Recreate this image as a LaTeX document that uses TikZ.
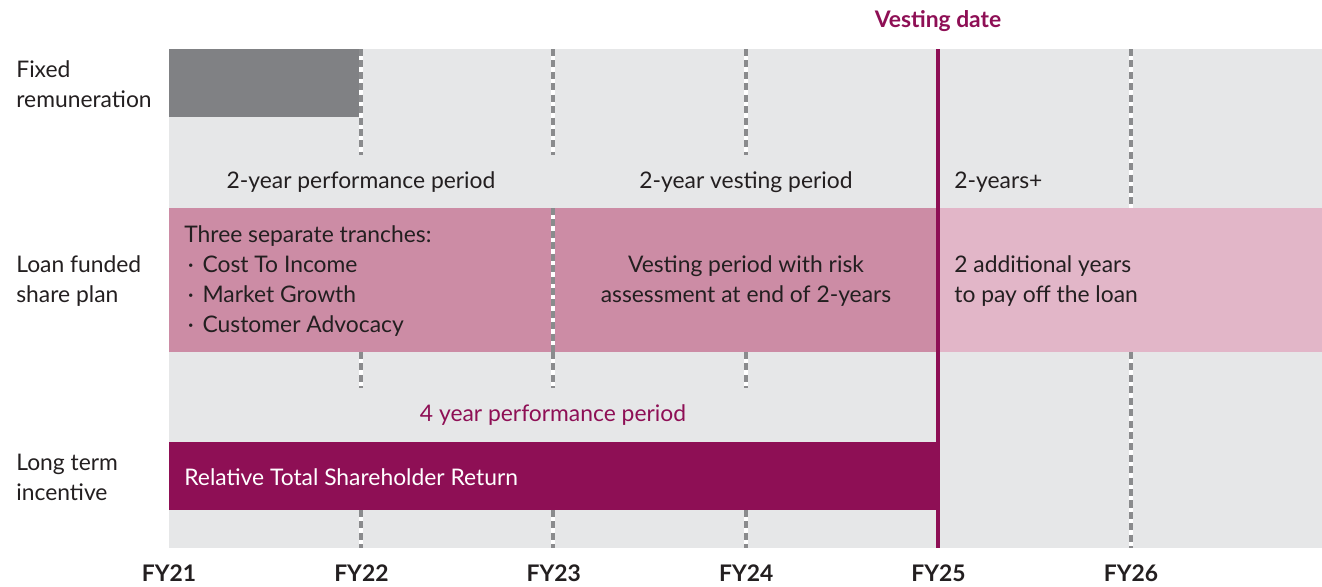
\documentclass[tikz,border=0pt]{standalone}
\usepackage{fontspec}
\setmainfont{Lato}

\definecolor{panelgrey}{HTML}{E6E7E8}
\definecolor{fixedgrey}{HTML}{808184}
\definecolor{lfspink}{HTML}{CC8CA5}
\definecolor{lfslight}{HTML}{E2B6C8}
\definecolor{plum}{HTML}{8E0F55}
\definecolor{inkdark}{HTML}{231F20}
\definecolor{dashgrey}{HTML}{8A8B8D}

\begin{document}
\begin{tikzpicture}[x=0.02cm, y=-0.02cm,
	every node/.style={font=\fontsize{13}{17}\selectfont, text=inkdark, inner sep=0pt},
	rowlabel/.style={anchor=west, align=left},
	period/.style={anchor=center},
	yearlabel/.style={anchor=center, font=\fontsize{13}{17}\selectfont\bfseries},
	gridline/.style={dashgrey, line width=2pt, dash pattern=on 4pt off 2.5pt}]
	\useasboundingbox (0,0) rectangle (1322,586);

	% panel and bands
	\fill[panelgrey] (169,49) rectangle (1322,548);
	\fill[fixedgrey] (169,49) rectangle (361,117);
	\fill[lfspink] (169,208) rectangle (938,352);
	\fill[lfslight] (938,208) rectangle (1322,352);
	\fill[plum] (169,442) rectangle (938,510);

	% year gridlines, white under grey dashes
	\foreach \x/\ya/\yb in {361/49/155, 553/49/155, 746/49/155, 1131/49/208,
		553/208/352, 361/352/388, 553/352/388, 746/352/388, 1131/352/548,
		361/510/548, 553/510/548, 746/510/548} {
		\draw[white, line width=2pt] (\x,\ya) -- (\x,\yb);
		\draw[gridline] (\x,\ya) -- (\x,\yb);
	}

	% vesting date marker
	\draw[plum, line width=2.8pt] (938,49) -- (938,548);
	\node[font=\fontsize{13}{17}\selectfont\bfseries, text=plum] (vest) at (938,21) {Vesting date};

	% row labels
	\node[rowlabel] (fixed) at (16,84) {Fixed\\remuneration};
	\node[rowlabel] (lfsp) at (16,281) {Loan funded\\share plan};
	\node[rowlabel] (lti) at (16,477) {Long term\\incentive};

	% loan funded share plan
	\node[period] (perf2) at (361,182) {2-year performance period};
	\node[period] (vest2) at (746,182) {2-year vesting period};
	\node[anchor=west] (plus2) at (954,182) {2-years+};
	\node[rowlabel] (tranches) at (184,281) {Three separate tranches:\\
		\hspace*{2pt}\textperiodcentered\hspace{5pt}Cost To Income\\
		\hspace*{2pt}\textperiodcentered\hspace{5pt}Market Growth\\
		\hspace*{2pt}\textperiodcentered\hspace{5pt}Customer Advocacy};
	\node[align=center] (risk) at (746,281) {Vesting period with risk\\assessment at end of 2-years};
	\node[rowlabel] (loan) at (954,281) {2 additional years\\to pay off the loan};

	% long term incentive
	\node[period, text=plum] (perf4) at (553,415) {4 year performance period};
	\node[anchor=west, text=white] (rtsr) at (184,477) {Relative Total Shareholder Return};

	% financial years
	\foreach \fy [count=\i from 0] in {21,...,26}
		\node[yearlabel] (fy\fy) at (169+192.4*\i,573) {FY\fy};
\end{tikzpicture}
\end{document}
